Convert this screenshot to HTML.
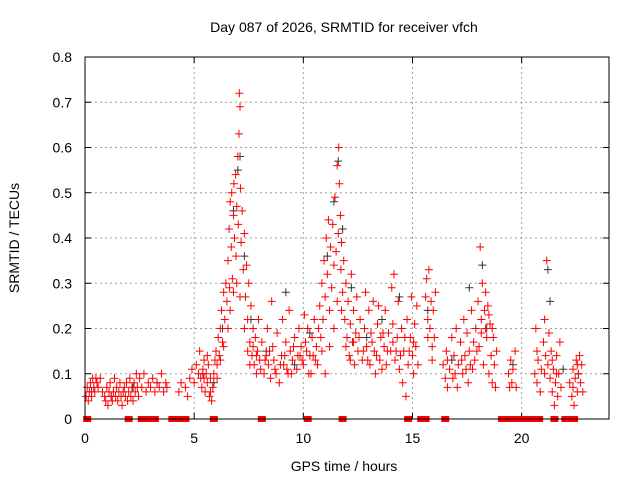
<!DOCTYPE html>
<html><head><meta charset="utf-8"><style>
body{margin:0;background:#fff;}
svg text{font-family:"Liberation Sans",sans-serif;font-size:14px;fill:#000;}
</style></head><body>
<svg id="chart" width="640" height="480" viewBox="0 0 640 480">
<rect width="640" height="480" fill="#fff"/>
<g id="grid"></g>
<g id="axes"></g>
<g id="black"></g>
<g id="red"></g>
<rect x="85" y="57" width="524" height="362" fill="none" stroke="#000" stroke-width="1"/>
<text x="344" y="32" text-anchor="middle">Day 087 of 2026, SRMTID for receiver vfch</text>
<text x="344" y="471" text-anchor="middle">GPS time / hours</text>
<text x="0" y="0" text-anchor="middle" transform="translate(19,238) rotate(-90)">SRMTID / TECUs</text>
</svg>
<script>
const xTicks=[0,5,10,15,20];
const yTicks=[0,0.1,0.2,0.3,0.4,0.5,0.6,0.7,0.8];
const yTickLabels=["0","0.1","0.2","0.3","0.4","0.5","0.6","0.7","0.8"];
const redPoints=[
[0.05,0.05],[0.1,0.07],[0.15,0.04],[0.2,0.06],[0.25,0.08],[0.3,0.05],[0.35,0.09],[0.4,0.07],[0.45,0.06],[0.5,0.09],[0.55,0.08],[0.6,0.07],[0.7,0.09],[0.8,0.06],[0.9,0.05],[0.95,0.04],[1.0,0.07],[1.05,0.03],[1.1,0.06],[1.15,0.08],[1.2,0.05],[1.25,0.04],[1.3,0.06],[1.35,0.09],[1.4,0.05],[1.45,0.07],[1.5,0.04],[1.55,0.06],[1.6,0.08],[1.65,0.05],[1.7,0.03],[1.75,0.06],[1.8,0.07],[1.85,0.05],[1.9,0.08],[1.95,0.04],[2.0,0.06],[2.05,0.09],[2.1,0.05],[2.15,0.07],[2.2,0.04],[2.25,0.08],[2.3,0.06],[2.35,0.1],[2.4,0.07],[2.45,0.05],[2.5,0.09],[2.6,0.07],[2.7,0.1],[2.8,0.06],[2.9,0.08],[3.0,0.07],[3.1,0.09],[3.2,0.06],[3.3,0.08],[3.4,0.07],[3.5,0.1],[3.6,0.06],[3.7,0.08],[3.75,0.07],
[4.3,0.06],[4.4,0.08],[4.6,0.07],[4.7,0.05],[4.8,0.09],[4.9,0.11],[5.0,0.08],[5.1,0.12],[5.2,0.1],[5.25,0.15],[5.3,0.09],[5.35,0.07],[5.4,0.11],[5.45,0.13],[5.5,0.06],[5.55,0.1],[5.6,0.08],[5.65,0.12],[5.7,0.05],[5.75,0.09],[5.8,0.04],[5.85,0.07],[5.9,0.1],[5.95,0.13],[6.0,0.15],[6.05,0.12],[6.1,0.18],[6.15,0.14],[6.2,0.2],[6.25,0.24],[6.3,0.17],[6.35,0.28],[6.4,0.22],[6.45,0.3],[6.5,0.26],[6.55,0.35],[6.6,0.42],[6.62,0.29],[6.65,0.48],[6.7,0.38],[6.72,0.5],[6.75,0.31],[6.8,0.45],[6.82,0.52],[6.85,0.4],[6.9,0.54],[6.92,0.36],[6.95,0.47],[7.0,0.58],[7.02,0.43],[7.05,0.63],[7.07,0.72],[7.1,0.69],[7.12,0.51],[7.15,0.39],[7.2,0.46],[7.25,0.33],[7.3,0.41],[7.35,0.27],[7.4,0.34],[7.45,0.22],[7.5,0.3],[7.55,0.17],[7.6,0.25],[7.65,0.14],[7.7,0.2],[7.75,0.12],[7.8,0.18],[7.85,0.1],[7.9,0.15],[7.95,0.22],[8.0,0.13],[8.1,0.17],[8.2,0.1],[8.3,0.14],[8.35,0.2],[8.4,0.12],[8.5,0.09],[8.55,0.26],[8.6,0.16],[8.7,0.11],[8.8,0.19],[8.9,0.08],[9.0,0.14],[9.05,0.22],[9.1,0.12],[9.2,0.17],[9.3,0.1],[9.35,0.24],[9.4,0.15],[9.5,0.13],[9.6,0.18],[9.7,0.11],[9.8,0.2],[9.85,0.14],[9.9,0.16],[10.0,0.12],[10.05,0.23],[10.1,0.17],[10.2,0.2],[10.3,0.14],[10.35,0.1],[10.4,0.18],[10.5,0.22],[10.55,0.13],[10.6,0.16],[10.7,0.2],[10.75,0.25],[10.8,0.18],[10.85,0.3],[10.9,0.22],[10.95,0.35],[11.0,0.27],[11.05,0.4],[11.1,0.32],[11.15,0.44],[11.2,0.24],[11.25,0.38],[11.3,0.29],[11.35,0.43],[11.4,0.34],[11.45,0.49],[11.5,0.37],[11.55,0.56],[11.6,0.41],[11.62,0.6],[11.65,0.52],[11.7,0.45],[11.72,0.33],[11.75,0.39],[11.8,0.28],[11.85,0.35],[11.9,0.22],[11.95,0.3],[12.0,0.18],[12.05,0.26],[12.1,0.14],[12.15,0.21],[12.2,0.32],[12.25,0.17],[12.3,0.24],[12.35,0.12],[12.4,0.19],[12.45,0.27],[12.5,0.15],[12.6,0.22],[12.7,0.13],[12.8,0.2],[12.85,0.28],[12.9,0.16],[13.0,0.24],[13.05,0.12],[13.1,0.19],[13.2,0.26],[13.25,0.15],[13.3,0.1],[13.4,0.21],[13.5,0.13],[13.55,0.18],[13.6,0.11],[13.7,0.16],[13.75,0.24],[13.8,0.12],[13.9,0.19],[14.0,0.15],[14.05,0.29],[14.1,0.21],[14.15,0.32],[14.2,0.13],[14.3,0.18],[14.35,0.26],[14.4,0.11],[14.5,0.2],[14.55,0.08],[14.6,0.15],[14.7,0.05],[14.75,0.22],[14.8,0.12],[14.9,0.18],[14.95,0.27],[15.0,0.14],[15.05,0.1],[15.1,0.21],[15.15,0.16],[15.2,0.25],[15.25,0.12],[15.6,0.27],[15.65,0.31],[15.7,0.22],[15.75,0.33],[15.8,0.2],[15.85,0.26],[15.9,0.16],[15.95,0.24],[16.0,0.18],[16.05,0.28],
[16.4,0.12],[16.5,0.09],[16.55,0.15],[16.6,0.07],[16.7,0.11],[16.8,0.18],[16.85,0.09],[16.9,0.14],[17.0,0.2],[17.05,0.07],[17.1,0.12],[17.2,0.17],[17.3,0.1],[17.35,0.22],[17.4,0.14],[17.5,0.19],[17.55,0.08],[17.6,0.15],[17.7,0.24],[17.75,0.11],[17.8,0.17],[17.85,0.13],[17.9,0.2],[18.0,0.26],[18.05,0.16],[18.1,0.38],[18.15,0.22],[18.2,0.3],[18.25,0.12],[18.3,0.24],[18.35,0.28],[18.4,0.18],[18.45,0.25],[18.5,0.1],[18.55,0.21],[18.6,0.14],[18.65,0.08],[18.7,0.18],[18.75,0.12],[18.8,0.07],[18.85,0.15],[19.4,0.1],[19.5,0.13],[19.55,0.08],[19.6,0.11],[19.7,0.15],[19.75,0.07],[20.6,0.1],[20.65,0.2],[20.7,0.08],[20.75,0.13],[20.85,0.06],[20.9,0.11],[21.0,0.17],[21.05,0.22],[21.1,0.14],[21.15,0.35],[21.2,0.12],[21.25,0.19],[21.3,0.09],[21.35,0.15],[21.4,0.06],[21.45,0.11],[21.5,0.03],[21.55,0.08],[21.6,0.14],[21.65,0.05],[21.7,0.1],[21.75,0.17],[21.8,0.07],[22.2,0.08],[22.3,0.05],[22.35,0.11],[22.4,0.03],[22.45,0.09],[22.5,0.13],[22.55,0.06],[22.6,0.1],[22.65,0.14],[22.7,0.08],[22.75,0.12],[22.8,0.06],
[5.45,0.09],[5.6,0.14],[5.75,0.06],[6.05,0.09],[6.2,0.13],[6.35,0.16],[6.55,0.2],[6.65,0.24],[6.8,0.28],[6.95,0.3],[7.1,0.27],[7.3,0.2],[7.45,0.15],[7.55,0.12],[7.7,0.16],[7.85,0.14],[8.05,0.11],[8.25,0.13],[8.45,0.15],[8.65,0.13],[8.75,0.1],[8.95,0.12],[9.15,0.14],[9.25,0.11],[9.45,0.1],[9.55,0.16],[9.75,0.14],[9.95,0.13],[10.15,0.15],[10.25,0.1],[10.45,0.14],[10.65,0.12],[10.85,0.15],[11.0,0.1],[11.2,0.16],[11.4,0.2],[11.55,0.26],[11.75,0.24],[11.95,0.16],[12.15,0.13],[12.3,0.17],[12.55,0.18],[12.75,0.15],[12.95,0.13],[13.15,0.17],[13.35,0.14],[13.45,0.25],[13.65,0.19],[13.85,0.15],[14.1,0.17],[14.25,0.15],[14.45,0.14],[14.65,0.18],[14.85,0.15],[15.05,0.17],[15.7,0.18],[15.9,0.13],[16.6,0.13],[16.95,0.1],[17.25,0.13],[17.45,0.11],[17.65,0.12],[17.95,0.15],[18.15,0.19],[18.35,0.2],[18.5,0.23],[18.65,0.2],[19.45,0.07],[20.7,0.15],[21.05,0.1],[21.4,0.13],[21.6,0.1],[22.35,0.07],[22.55,0.12]
];
const zeroPoints=[[0.1,0],[2.0,0],[2.6,0],[2.8,0],[3.0,0],[3.2,0],[4.0,0],[4.2,0],[4.4,0],[4.6,0],[5.9,0],[8.1,0],[10.2,0],[11.8,0],[14.8,0],[15.4,0],[15.6,0],[16.5,0],[19.1,0],[19.3,0],[19.5,0],[19.8,0],[20.0,0],[20.2,0],[20.5,0],[20.8,0],[21.5,0],[22.0,0],[22.2,0],[22.4,0]];
const blackPoints=[[0.3,0.06],[1.2,0.05],[2.2,0.07],[3.3,0.08],[5.4,0.1],[5.9,0.08],[6.3,0.2],[6.8,0.46],[7.0,0.55],[7.1,0.58],[7.3,0.36],[7.6,0.22],[8.3,0.15],[9.2,0.28],[9.6,0.12],[10.3,0.19],[11.1,0.36],[11.4,0.48],[11.6,0.57],[11.8,0.42],[12.2,0.29],[12.9,0.18],[13.6,0.22],[14.4,0.27],[15.7,0.24],[16.8,0.13],[17.6,0.29],[18.2,0.34],[18.4,0.2],[19.6,0.12],[21.2,0.33],[21.3,0.26],[21.9,0.11],[22.6,0.1]];
const NS='http://www.w3.org/2000/svg';
const X0=85,X1=609,Y0=419,Y1=57,XMAX=24,YMAX=0.8;
function xs(t){return X0+(X1-X0)*t/XMAX;}
function ys(v){return Y0-(Y0-Y1)*v/YMAX;}
function mk(tag,attrs,parent){const e=document.createElementNS(NS,tag);for(const k in attrs)e.setAttribute(k,attrs[k]);parent.appendChild(e);return e;}
const grid=document.getElementById('grid'),axes=document.getElementById('axes');
xTicks.forEach((t,i)=>{
 const x=xs(t);
 if(t>0){const g=mk('line',{x1:x,x2:x,y1:Y1,y2:Y0,stroke:'#a0a0a0','stroke-dasharray':'2,3'},grid);
 
 }
 const tk=mk('path',{d:`M${x},${Y0}V${Y0-6}M${x},${Y1}V${Y1+6}`,stroke:'#000'},axes);
 
 
 const lb=mk('text',{x:x,y:443,'text-anchor':'middle'},axes);lb.textContent=String(t);
 
 
});
yTicks.forEach((v,i)=>{
 const y=ys(v);
 if(v>0&&v<YMAX){const g=mk('line',{x1:X0,x2:X1,y1:y,y2:y,stroke:'#a0a0a0','stroke-dasharray':'2,3'},grid);
 
 }
 const tk=mk('path',{d:`M${X0},${y}H${X0+6}M${X1},${y}H${X1-6}`,stroke:'#000'},axes);
 
 
 const lb=mk('text',{x:72,y:y+5,'text-anchor':'end'},axes);lb.textContent=yTickLabels[i];
 
 
});
function plus(p,color,parent){
 const x=xs(p[0]),y=ys(p[1]);
 const e=mk('path',{d:`M${x-4},${y}H${x+4}M${x},${y-4}V${y+4}`,stroke:color,'stroke-width':1,fill:'none'},parent);
 
 
}
const bg=document.getElementById('black'),rg=document.getElementById('red');
blackPoints.forEach(p=>plus(p,'#333',bg));
redPoints.forEach(p=>plus(p,'#f00',rg));
zeroPoints.forEach(p=>{
 const x=xs(p[0]),y=ys(p[1]);
 const e=mk('rect',{x:x-4,y:y-3,width:8,height:6,fill:'#f00'},rg);
 
 
});
</script>
</body></html>
